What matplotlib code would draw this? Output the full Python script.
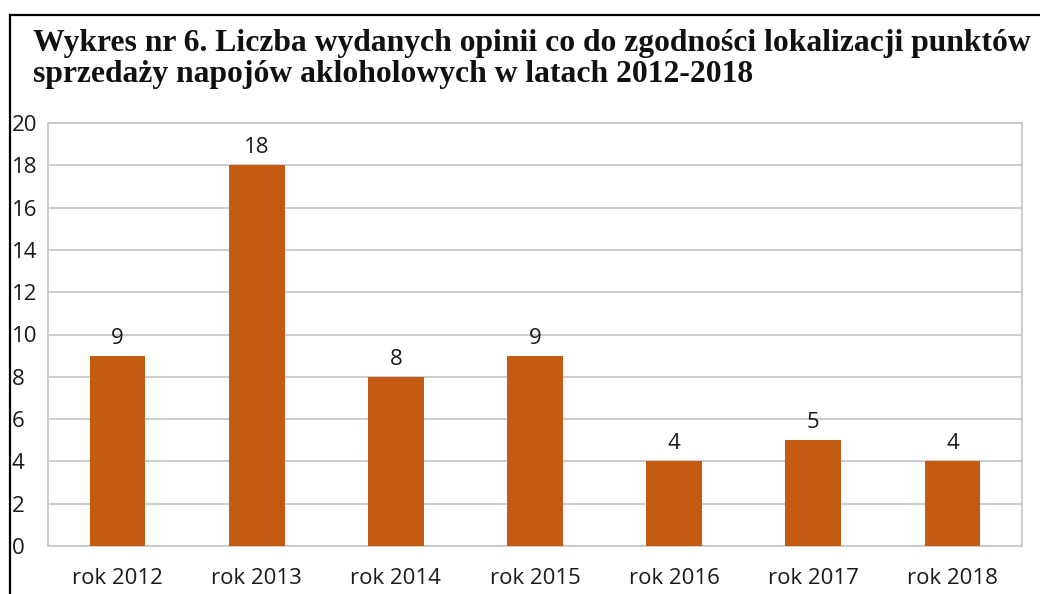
import matplotlib
matplotlib.use("Agg")
import matplotlib.pyplot as plt
from matplotlib.lines import Line2D

categories = ["rok 2012", "rok 2013", "rok 2014", "rok 2015", "rok 2016", "rok 2017", "rok 2018"]
values = [9, 18, 8, 9, 4, 5, 4]
yticks = [0, 2, 4, 6, 8, 10, 12, 14, 16, 18, 20]
title = ("Wykres nr 6. Liczba wydanych opinii co do zgodności lokalizacji punktów\n"
         "sprzedaży napojów akloholowych w latach 2012-2018")

W, H = 1040, 594
fig = plt.figure(figsize=(W / 100, H / 100), dpi=100)
fig.patch.set_facecolor("white")

# outer frame (top and left edges visible)
fig.add_artist(Line2D([10 / W, 10 / W], [0, 1 - 15 / H], color="black", lw=1.6, transform=fig.transFigure))
fig.add_artist(Line2D([10 / W, 1], [1 - 15 / H, 1 - 15 / H], color="black", lw=1.6, transform=fig.transFigure))

ax = fig.add_axes([48 / W, 1 - 546 / H, (1022 - 48) / W, (546 - 123) / H])
x = list(range(len(categories)))
ax.bar(x, values, width=0.4, color="#C55A11", zorder=3)
ax.set_xlim(-0.5, len(categories) - 0.5)
ax.set_ylim(0, 20)
ax.set_yticks(yticks)
ax.set_yticklabels([str(t) for t in yticks])
ax.set_xticks(x)
ax.set_xticklabels(categories)
ax.grid(axis="y", color="#C8C8C8", lw=1.3, zorder=0)
for s in ax.spines.values():
    s.set_color("#C8C8C8")
    s.set_linewidth(1.3)
ax.tick_params(axis="both", length=0, labelsize=16, colors="#1a1a1a")
ax.tick_params(axis="x", pad=16)
ax.tick_params(axis="y", pad=(48 - 12) * 0.72)
for lab in ax.get_yticklabels():
    lab.set_horizontalalignment("left")
    lab.set_fontfamily("Open Sans")
for lab in ax.get_xticklabels():
    lab.set_fontfamily("Open Sans")

for xi, v in zip(x, values):
    ax.annotate(str(v), (xi, v), xytext=(0, 5), textcoords="offset points",
                ha="center", va="bottom", fontsize=16, family="Open Sans", color="#1a1a1a")

fig.text(33 / W, 1 - 82 / H, title, ha="left", va="baseline", fontsize=22.8,
         fontweight="bold", family="Liberation Serif", linespacing=1.08, color="#111111")

fig.savefig("out.png", dpi=100)
